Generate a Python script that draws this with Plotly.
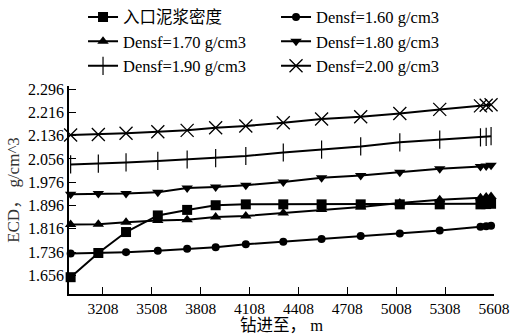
import plotly.graph_objects as go

# Drilling depth (m) at each sampling point
depth = [3010, 3180, 3350, 3545, 3725, 3900, 4085, 4315, 4550, 4790, 5030, 5275, 5525, 5560, 5590]

# ECD (g/cm^3) for each case
ecd_inlet = [1.650, 1.733, 1.805, 1.862, 1.881, 1.897, 1.900, 1.900, 1.900, 1.900, 1.900, 1.900, 1.900, 1.901, 1.902]
ecd_160 = [1.731, 1.733, 1.736, 1.741, 1.748, 1.753, 1.763, 1.772, 1.781, 1.791, 1.800, 1.810, 1.823, 1.825, 1.827]
ecd_170 = [1.831, 1.832, 1.839, 1.845, 1.847, 1.857, 1.860, 1.870, 1.882, 1.891, 1.905, 1.916, 1.923, 1.925, 1.927]
ecd_180 = [1.935, 1.937, 1.937, 1.942, 1.956, 1.960, 1.966, 1.977, 1.991, 1.999, 2.010, 2.022, 2.030, 2.032, 2.034]
ecd_190 = [2.037, 2.040, 2.044, 2.049, 2.054, 2.059, 2.066, 2.078, 2.088, 2.099, 2.113, 2.122, 2.130, 2.132, 2.134]
ecd_200 = [2.138, 2.140, 2.144, 2.149, 2.154, 2.163, 2.169, 2.180, 2.193, 2.201, 2.212, 2.226, 2.238, 2.240, 2.242]

series_names = ["入口泥浆密度", "Densf=1.60 g/cm3", "Densf=1.70 g/cm3",
                "Densf=1.80 g/cm3", "Densf=1.90 g/cm3", "Densf=2.00 g/cm3"]

x_ticks = [3208, 3508, 3808, 4108, 4408, 4708, 5008, 5308, 5608]
y_ticks = [1.656, 1.736, 1.816, 1.896, 1.976, 2.056, 2.136, 2.216, 2.296]

FONT = "Liberation Serif, Times New Roman, Noto Sans CJK SC, serif"

styles = [
    dict(symbol="square", size=10),
    dict(symbol="circle", size=8),
    dict(symbol="triangle-up", size=10),
    dict(symbol="triangle-down", size=10),
    dict(symbol="line-ns-open", size=13, line=dict(width=1.2, color="black")),
    dict(symbol="x-thin-open", size=13, line=dict(width=1.3, color="black")),
]

fig = go.Figure()
for name, vals, st in zip(series_names,
                          [ecd_inlet, ecd_160, ecd_170, ecd_180, ecd_190, ecd_200],
                          styles):
    fig.add_trace(go.Scatter(
        x=depth, y=vals, name=name, mode="lines+markers",
        line=dict(color="black", width=2),
        marker=dict(color="black", **st),
        cliponaxis=False,
    ))

fig.update_layout(
    width=512, height=335,
    margin=dict(l=69, r=18, t=86, b=41, autoexpand=False),
    paper_bgcolor="white", plot_bgcolor="white",
    font=dict(family=FONT, size=16, color="black"),
    showlegend=True,
    legend=dict(
        orientation="h", x=0.033, xanchor="left", y=1.415, yanchor="top",
        entrywidth=148, entrywidthmode="pixels",
        font=dict(family=FONT, size=16.5, color="black"),
        bgcolor="rgba(0,0,0,0)", tracegroupgap=0, itemsizing="trace",
    ),
    xaxis=dict(
        range=[3000, 5608], tickmode="array", tickvals=x_ticks,
        ticktext=[str(v) for v in x_ticks],
        ticks="inside", ticklen=7, tickwidth=1.2, tickcolor="black",
        showline=True, linecolor="black", linewidth=1.5,
        showgrid=False, zeroline=False,
        tickfont=dict(family=FONT, size=15.5), ticklabelstandoff=0,
        title=dict(text="钻进至， m", standoff=7,
                   font=dict(family=FONT, size=16.5)),
    ),
    yaxis=dict(
        range=[1.5923, 2.3063], tickmode="array", tickvals=y_ticks,
        ticktext=[f"{v:.3f}" for v in y_ticks],
        ticks="inside", ticklen=7, tickwidth=1.2, tickcolor="black",
        showline=True, linecolor="black", linewidth=1.5,
        showgrid=False, zeroline=False,
        tickfont=dict(family=FONT, size=16),
        title=dict(text="ECD， g/cm^3", standoff=4,
                   font=dict(family=FONT, size=17, color="#333")),
    ),
)

fig.write_html("out.html")
